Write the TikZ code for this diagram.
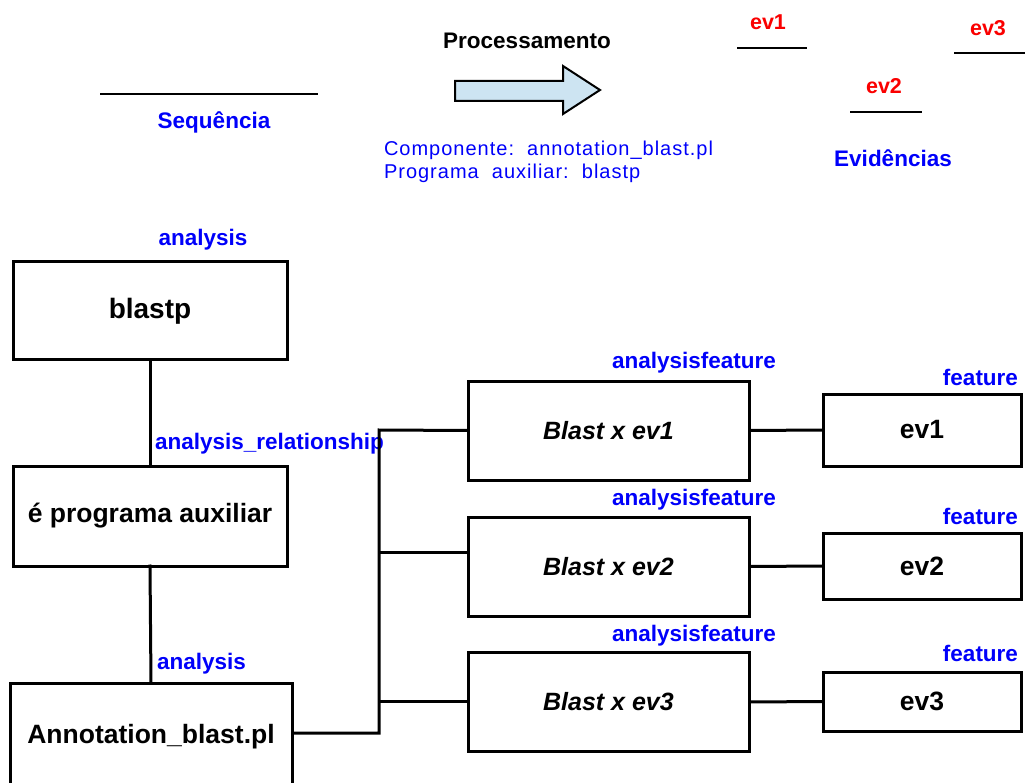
\documentclass[tikz,border=0pt]{standalone}
\usepackage{fontspec}
\setmainfont{Liberation Sans}
\definecolor{lblue}{RGB}{0,0,250}
\definecolor{lred}{RGB}{250,0,0}
\definecolor{arrowfill}{RGB}{205,228,242}
\begin{document}
\begin{tikzpicture}[x=1pt,y=-1pt,
  every node/.style={inner sep=0pt,outer sep=0pt},
  box/.style={draw=black,line width=3pt,align=center,font=\fontsize{26.5}{30}\selectfont\bfseries},
  tag/.style={text=lblue,font=\fontsize{22.5}{26}\selectfont\bfseries},
  evtag/.style={text=lred,font=\fontsize{21.5}{25}\selectfont\bfseries},
  info/.style={text=lblue,anchor=west,font=\fontsize{20}{23}\selectfont\addfontfeature{LetterSpace=5}},
  link/.style={line width=3pt,line cap=rect},
  seg/.style={line width=2.5pt}]
\useasboundingbox (0,0) rectangle (1025,783);
\clip (0,0) rectangle (1025,783);

% top legend: sequence, processing step, evidences
\coordinate (s1) at (100,94);  \coordinate (s2) at (318,94);
\draw[seg] (s1) -- (s2);
\node[tag] (seq) at (214,122) {Sequência};

\node[font=\fontsize{22.5}{26}\selectfont\bfseries] (proc) at (527,41) {Processamento};
\draw[line width=2pt,fill=arrowfill,line join=miter]
  (455,81) -- (563,81) -- (563,66) -- (600,90) -- (563,114) -- (563,101) -- (455,101) -- cycle;
\node[info] (comp) at (384,150) {Componente:\ \ annotation\_blast.pl};
\node[info] (aux) at (384,173) {Programa\ \ auxiliar:\ \ blastp};

\node[evtag] (e1) at (768,22) {ev1};
\coordinate (e1a) at (737,48);  \coordinate (e1b) at (807,48);
\draw[seg] (e1a) -- (e1b);
\node[evtag] (e2) at (884,86) {ev2};
\coordinate (e2a) at (850,112); \coordinate (e2b) at (922,112);
\draw[seg] (e2a) -- (e2b);
\node[evtag] (e3) at (988,28) {ev3};
\coordinate (e3a) at (954,53);  \coordinate (e3b) at (1025,53);
\draw[seg] (e3a) -- (e3b);
\node[tag] (evid) at (893,158) {Evidências};

% analysis chain
\node[box,minimum width=274pt,minimum height=98pt,font=\fontsize{28}{32}\selectfont\bfseries] (blastp) at (150,311) {blastp};
\node[box,minimum width=274pt,minimum height=100pt] (prog) at (150,516) {é programa auxiliar};
\node[box,minimum width=282pt,minimum height=107pt] (ann) at (151,736.5) {Annotation\_blast.pl};
\node[tag] (t1) at (203,240) {analysis};
\node[tag,anchor=west] (t2) at (155,444) {analysis\_relationship};
\node[tag,anchor=west] (t3) at (157,664) {analysis};
\draw[link] (blastp.south) -- (prog.north);
\draw[link] (prog.south) -- (ann.north);

% analysisfeature boxes
\tikzset{bx/.style={box,minimum width=281pt,minimum height=99pt,font=\fontsize{25}{29}\selectfont\bfseries\itshape}}
\node[bx] (b1) at (608.5,430.5) {Blast x ev1};
\node[bx] (b2) at (608.5,566.5) {Blast x ev2};
\node[bx] (b3) at (608.5,702) {Blast x ev3};
\foreach \n/\y in {a1/363,a2/500,a3/636}
  \node[tag,anchor=west] (\n) at (612,\y) {analysisfeature};

% feature boxes
\tikzset{fx/.style={box,minimum width=198pt}}
\node[fx,minimum height=72pt] (f1) at (922,430) {ev1};
\node[fx,minimum height=66pt] (f2) at (922,566) {ev2};
\node[fx,minimum height=59pt] (f3) at (922,701.5) {ev3};
\foreach \n/\y in {g1/377,g2/516,g3/653}
  \node[tag,anchor=east] (\n) at (1018,\y) {feature};

% bus from the component to its analysisfeatures
\coordinate (j1) at (379,430);
\coordinate (j2) at (379,552);
\coordinate (j3) at (379,701);
\coordinate (jb) at (379,733);
\draw[link,line cap=butt] (ann.east |- jb) -- (jb) -- (j1) -- (b1.west);
\draw[link,line cap=butt] (j2) -- (b2.west |- j2);
\draw[link,line cap=butt] (j3) -- (b3.west |- j3);
\draw[link,line cap=butt] (b1.east) -- (f1.west);
\draw[link,line cap=butt] (b2.east) -- (f2.west);
\draw[link,line cap=butt] (b3.east) -- (f3.west);
\end{tikzpicture}
\end{document}
